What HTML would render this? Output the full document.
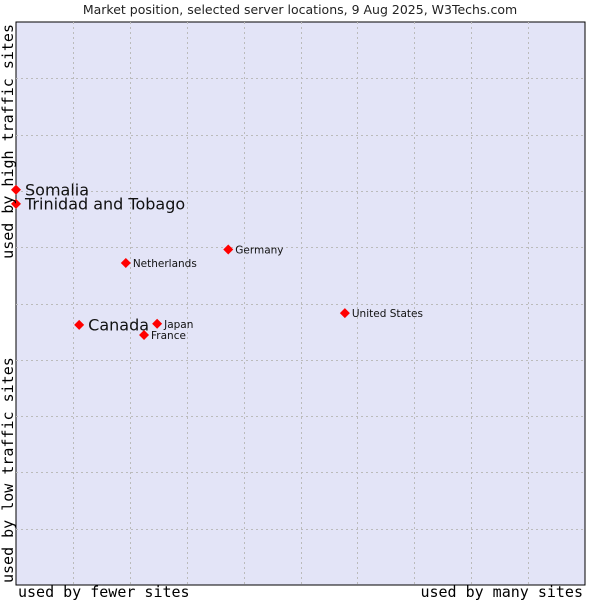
<!DOCTYPE html>
<html><head><meta charset="utf-8"><style>
body{margin:0;background:#fff;width:600px;height:600px;overflow:hidden}
svg{display:block}
</style></head><body>
<svg id="chart" width="600" height="600" xmlns="http://www.w3.org/2000/svg">
<text x="300" y="14" text-anchor="middle" font-family="DejaVu Sans, sans-serif" font-size="12.5" fill="#222">Market position, selected server locations, 9 Aug 2025, W3Techs.com</text>
<rect x="16" y="22" width="569" height="563" fill="#e3e4f7" stroke="#000" stroke-width="1"/>
<g id="grid"></g>
<g id="points"></g>
<text x="18" y="597" font-family="DejaVu Sans Mono, monospace" font-size="15" fill="#000">used by fewer sites</text>
<text x="583" y="597" text-anchor="end" font-family="DejaVu Sans Mono, monospace" font-size="15" fill="#000">used by many sites</text>
<text transform="translate(13,24) rotate(-90)" text-anchor="end" font-family="DejaVu Sans Mono, monospace" font-size="15" fill="#000">used by high traffic sites</text>
<text transform="translate(13,583) rotate(-90)" font-family="DejaVu Sans Mono, monospace" font-size="15" fill="#000">used by low traffic sites</text>
</svg>
<script>
const countries = ["Somalia","Trinidad and Tobago","Netherlands","Germany","Canada","Japan","France","United States"];
const xValues = [0, 0, 19.3, 37.3, 11.1, 24.8, 22.5, 57.8];
const yValues = [70.2, 67.7, 57.2, 59.6, 46.2, 46.4, 44.4, 48.3];
const highlighted = [true, true, false, false, true, false, false, false];

const L=16,T=22,W=569,H=563;
const sx=v=>L+v/100*W;
const sy=v=>T+H-v/100*H;
const NS="http://www.w3.org/2000/svg";
const grid=document.getElementById('grid');
for(let i=1;i<10;i++){
  const v=document.createElementNS(NS,'line');
  
  
  const x=Math.round(sx(i*10))+0.5;
  v.setAttribute('x1',x);v.setAttribute('x2',x);v.setAttribute('y1',T);v.setAttribute('y2',T+H);
  v.setAttribute('stroke','#bbb');v.setAttribute('stroke-dasharray','2,3');
  grid.appendChild(v);
  const h=document.createElementNS(NS,'line');
  
  
  const y=Math.round(sy(i*10))+0.5;
  h.setAttribute('x1',L);h.setAttribute('x2',L+W);h.setAttribute('y1',y);h.setAttribute('y2',y);
  h.setAttribute('stroke','#bbb');h.setAttribute('stroke-dasharray','2,3');
  grid.appendChild(h);
}
const pts=document.getElementById('points');
countries.forEach((c,i)=>{
  const x=sx(xValues[i]),y=sy(yValues[i]);
  const p=document.createElementNS(NS,'path');
  
  
  p.setAttribute('d',`M${x-5},${y} L${x},${y-5} L${x+5},${y} L${x},${y+5} Z`);
  p.setAttribute('fill','#f00');
  pts.appendChild(p);
  const t=document.createElementNS(NS,'text');
  
  
  const big=highlighted[i];
  t.setAttribute('x',x+(big?9:7));
  t.setAttribute('y',y+(big?5.5:4));
  t.setAttribute('font-family','DejaVu Sans, sans-serif');
  t.setAttribute('font-size',big?'16':'10.5');
  t.setAttribute('fill','#111');
  t.textContent=c;
  pts.appendChild(t);
});
</script>
</body></html>
